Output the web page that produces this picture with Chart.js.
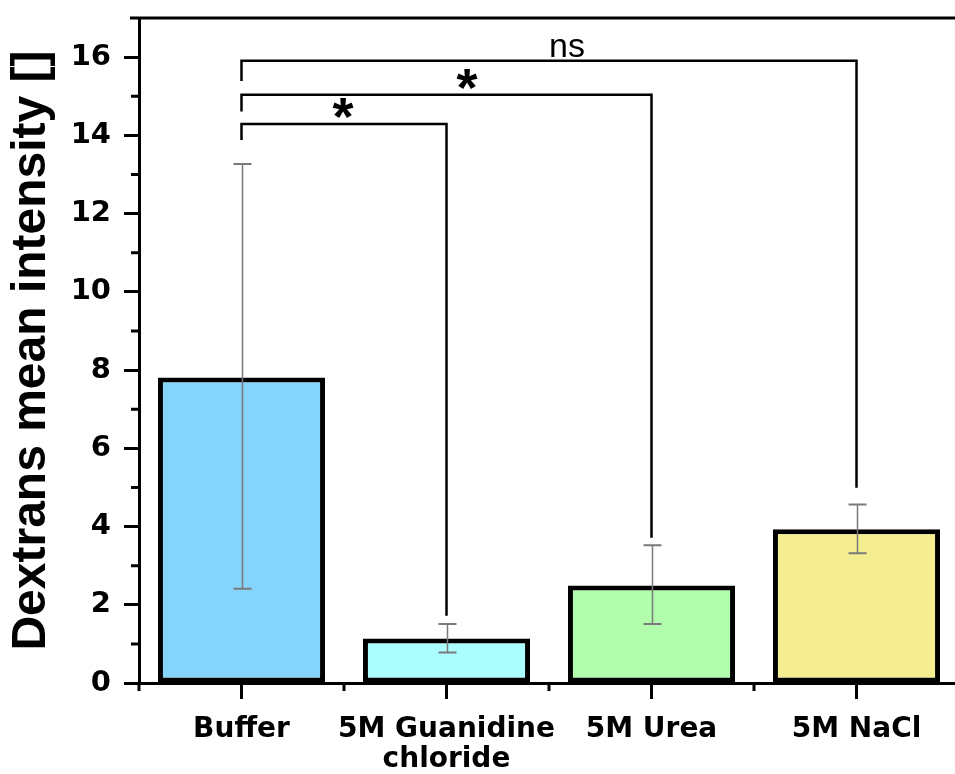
<!DOCTYPE html>
<html>
<head>
<meta charset="utf-8">
<script src="https://cdn.jsdelivr.net/npm/chart.js@4.4.1/dist/chart.umd.min.js"></script>
<style>
  html, body { margin: 0; padding: 0; background: #fff; overflow: hidden; }
  #wrap { width: 965px; height: 774px; }
</style>
</head>
<body>
<div id="wrap"><canvas id="c" width="965" height="774"></canvas></div>
<script>
// Treatment groups and measured dextran intensity (mean with error range)
const categories = ['Buffer', ['5M Guanidine', 'chloride'], '5M Urea', '5M NaCl'];
const meanIntensity = [7.81, 1.14, 2.49, 3.93];
const errLow = [2.41, 0.78, 1.51, 3.32];
const errHigh = [13.27, 1.51, 3.52, 4.56];
const barColors = ['#84d4fc', '#aafefe', '#b2fdad', '#f5ee91'];
const yTickValues = [0, 2, 4, 6, 8, 10, 12, 14, 16];

// Significance comparisons against Buffer
const sigFrom = [0, 0, 0];
const sigTo = [1, 2, 3];
const sigLevel = [14.29, 15.04, 15.91];
const sigLeftEnd = [13.88, 14.61, 15.39];
const sigRightEnd = [1.72, 3.71, 4.99];
const sigText = ['*', '*', 'ns'];
const sigTextPos = [0.495, 1.1, 1.588];

const overlay = {
  id: 'overlay',
  afterDatasetsDraw(chart) {
    const ctx = chart.ctx;
    const x = chart.scales.x, y = chart.scales.y;
    const area = chart.chartArea;
    ctx.save();

    // error bars
    ctx.strokeStyle = '#7a7a7a';
    for (let i = 0; i < meanIntensity.length; i++) {
      const px = Math.round(x.getPixelForValue(i)) + 0.5;
      const yl = y.getPixelForValue(errLow[i]);
      const yh = y.getPixelForValue(errHigh[i]);
      ctx.lineWidth = 1.5;
      ctx.beginPath();
      ctx.moveTo(px, yl); ctx.lineTo(px, yh); ctx.stroke();
      ctx.lineWidth = 2;
      ctx.beginPath();
      ctx.moveTo(px - 9, yl); ctx.lineTo(px + 9, yl);
      ctx.moveTo(px - 9, yh); ctx.lineTo(px + 9, yh);
      ctx.stroke();
    }

    // minor ticks
    ctx.strokeStyle = '#000';
    ctx.lineWidth = 3;
    ctx.beginPath();
    for (let v = 1; v < 17; v += 2) {
      const py = y.getPixelForValue(v);
      ctx.moveTo(area.left, py); ctx.lineTo(area.left - 8, py);
    }
    for (let b = -0.5; b <= categories.length - 0.5; b += 1) {
      const px = x.getPixelForValue(b);
      ctx.moveTo(px, area.bottom); ctx.lineTo(px, area.bottom + 8);
    }
    // top frame line
    ctx.moveTo(area.left - 9, area.top); ctx.lineTo(chart.width, area.top);
    ctx.stroke();

    // significance brackets
    ctx.lineWidth = 2.5;
    for (let k = 0; k < sigLevel.length; k++) {
      const x1 = x.getPixelForValue(sigFrom[k]);
      const x2 = x.getPixelForValue(sigTo[k]);
      const yl = y.getPixelForValue(sigLevel[k]);
      ctx.beginPath();
      ctx.moveTo(x1, y.getPixelForValue(sigLeftEnd[k]));
      ctx.lineTo(x1, yl);
      ctx.lineTo(x2, yl);
      ctx.lineTo(x2, y.getPixelForValue(sigRightEnd[k]));
      ctx.stroke();

      const tx = x.getPixelForValue(sigTextPos[k]);
      ctx.fillStyle = '#000';
      ctx.textAlign = 'center';
      ctx.textBaseline = 'alphabetic';
      if (sigText[k] === 'ns') {
        ctx.font = '34px "Liberation Sans"';
        ctx.fillText(sigText[k], tx, yl - 4);
      } else {
        ctx.font = 'bold 54px "Liberation Sans"';
        ctx.fillText(sigText[k], tx, yl + 11);
      }
    }
    ctx.restore();
  }
};

new Chart(document.getElementById('c'), {
  type: 'bar',
  data: {
    labels: categories,
    datasets: [{
      data: meanIntensity,
      backgroundColor: barColors,
      borderColor: '#000',
      borderWidth: 5,
      borderSkipped: false,
      barPercentage: 0.815,
      categoryPercentage: 1
    }]
  },
  options: {
    responsive: false,
    devicePixelRatio: 1,
    animation: false,
    layout: { padding: { top: 18, right: 6, left: 0, bottom: 0 } },
    plugins: { legend: { display: false }, tooltip: { enabled: false } },
    scales: {
      x: {
        type: 'category',
        offset: true,
        grid: { offset: false, display: true, drawOnChartArea: false, drawTicks: true,
                tickLength: 16, tickWidth: 3, tickColor: '#000' },
        border: { display: true, width: 3, color: '#000' },
        ticks: {
          color: '#000', padding: 16, maxRotation: 0, autoSkip: false,
          font: { family: 'DejaVu Sans', weight: 'bold', size: 28, lineHeight: 1.07 }
        },
        afterFit(s) { s.height = 91; s.paddingLeft = 0; s.paddingRight = 0; }
      },
      y: {
        min: 0, max: 17,
        afterBuildTicks(s) { s.ticks = yTickValues.map(v => ({ value: v })); },
        grid: { display: true, drawOnChartArea: false, drawTicks: true,
                tickLength: 15, tickWidth: 3, tickColor: '#000' },
        border: { display: true, width: 3, color: '#000' },
        ticks: {
          color: '#000', padding: 13,
          font: { family: 'DejaVu Sans', weight: 'bold', size: 29 }
        },
        title: {
          display: true, text: 'Dextrans mean intensity []', color: '#000',
          font: { family: 'Liberation Sans', weight: 'bold', size: 48 },
          padding: { top: 3, bottom: 0 }
        },
        afterFit(s) { s.width = 139; s.paddingTop = 0; s.paddingBottom = 0; }
      }
    }
  },
  plugins: [overlay]
});
</script>
</body>
</html>
